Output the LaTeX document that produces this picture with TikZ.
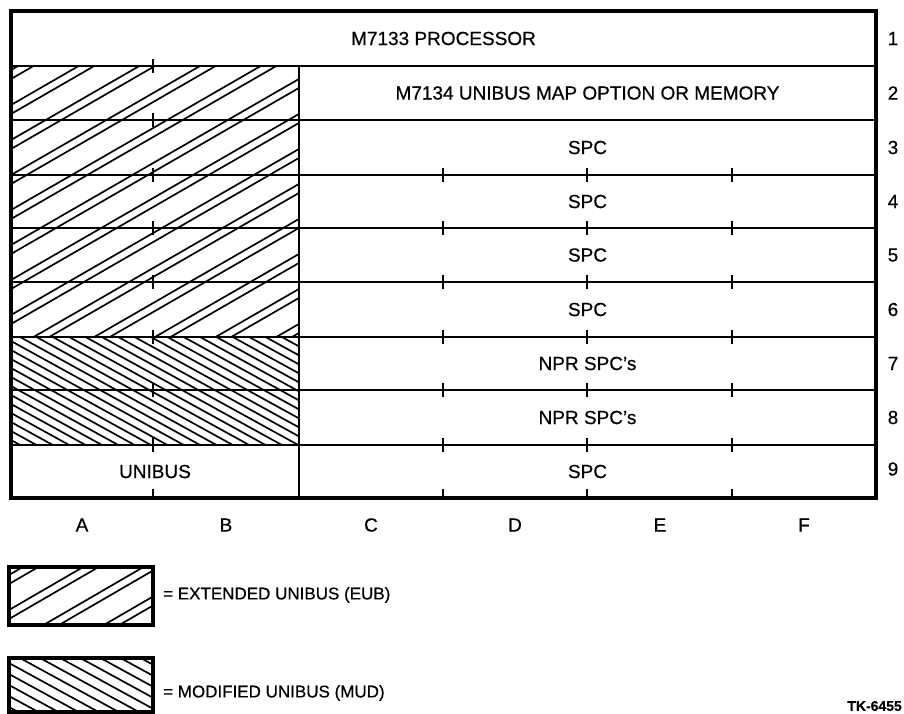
\documentclass[tikz,border=0pt]{standalone}
\usepackage{fontspec}
\setmainfont{Liberation Sans}
\newfontfamily\labelfont{Liberation Sans}[FakeBold=0.5]
\usetikzlibrary{positioning,calc}

\begin{document}
\begin{tikzpicture}[x=1pt, y=-1pt,
      every node/.style={font=\labelfont\fontsize{19}{22}\selectfont, inner sep=0pt},
      frame/.style={line width=3.2pt},
      rule/.style={line width=2.2pt},
      hatch/.style={line width=1.7pt},
      tick/.style={line width=2.2pt},
      legend/.style={anchor=west, font=\labelfont\fontsize{17}{20}\selectfont}
  ]
    \useasboundingbox (0,0) rectangle (904,713);
    % extended unibus hatching (rows 2-6, slots A-B)
    \begin{scope}
      \clip (11,66) rectangle (299,337);
      \foreach \c in {70,105,...,530} {
        \draw[hatch] (11,\c) -- ++(300,-173);
        \draw[hatch] (11,\c+9) -- ++(300,-173);
      }
    \end{scope}
    % modified unibus hatching (rows 7-8, slots A-B)
    \begin{scope}
      \clip (11,337) rectangle (299,445);
      \foreach \c in {170,179,...,450}
        \draw[hatch] (11,\c) -- ++(300,165);
    \end{scope}
    % grid
    \foreach \y in {66,120,175,228,282,337,390,445}
      \draw[rule] (11,\y) -- (876,\y);
    \draw[rule] (299,66) -- (299,498);
    \draw[frame] (11,11) rectangle (876,498);
    % slot ticks
    \foreach \y in {66,120,175,228,282,337,390,445}
      \draw[tick] (153,\y-7) -- (153,\y+7);
    \foreach \x in {443,587,732} {
      \foreach \y in {175,228,282,337,390,445}
        \draw[tick] (\x,\y-7) -- (\x,\y+7);
      \draw[tick] (\x,498) -- (\x,489);
    }
    \draw[tick] (153,498) -- (153,489);
    % row contents
    \node (proc) at (443.5,38.5) {M7133 PROCESSOR};
    \node (map) at (587.5,93) {M7134 UNIBUS MAP OPTION OR MEMORY};
    \node (spc3) at (587.5,147.5) {SPC};
    \node (spc4) at (587.5,201.5) {SPC};
    \node (spc5) at (587.5,255) {SPC};
    \node (spc6) at (587.5,309.5) {SPC};
    \node (npr7) at (587.5,363.5) {NPR SPC’s};
    \node (npr8) at (587.5,417.5) {NPR SPC’s};
    \node (unibus) at (155,471.5) {UNIBUS};
    \node (spc9) at (587.5,471.5) {SPC};
    % row numbers and slot letters
    \foreach \y [count=\i] in {38.5,93,147.5,201.5,255,309.5,363.5,417.5,469}
      \node (row\i) at (893,\y) {\i};
    \foreach \x/\s in {82/A,226/B,371/C,515/D,660/E,804/F}
      \node (slot\s) at (\x,525) {\s};
    % legend
    \begin{scope}
      \clip (9,567) rectangle (153,625);
      \foreach \c in {575,610,...,715} {
        \draw[hatch] (9,\c) -- ++(150,-87);
        \draw[hatch] (9,\c+9) -- ++(150,-87);
      }
    \end{scope}
    \draw[frame] (9,567) rectangle (153,625);
    \begin{scope}
      \clip (9,658) rectangle (153,712);
      \foreach \c in {575,586,...,715}
        \draw[hatch] (9,\c) -- ++(150,82);
    \end{scope}
    \draw[frame] (9,658) rectangle (153,712);
    \node[legend] (eub) at (163,595) {= EXTENDED UNIBUS (EUB)};
    \node[legend] (mud) at (163,693) {= MODIFIED UNIBUS (MUD)};
    \node[font=\labelfont\fontsize{14}{16}\selectfont\bfseries, anchor=east] (tk) at (902,706) {TK-6455};
  \end{tikzpicture}
\end{document}
